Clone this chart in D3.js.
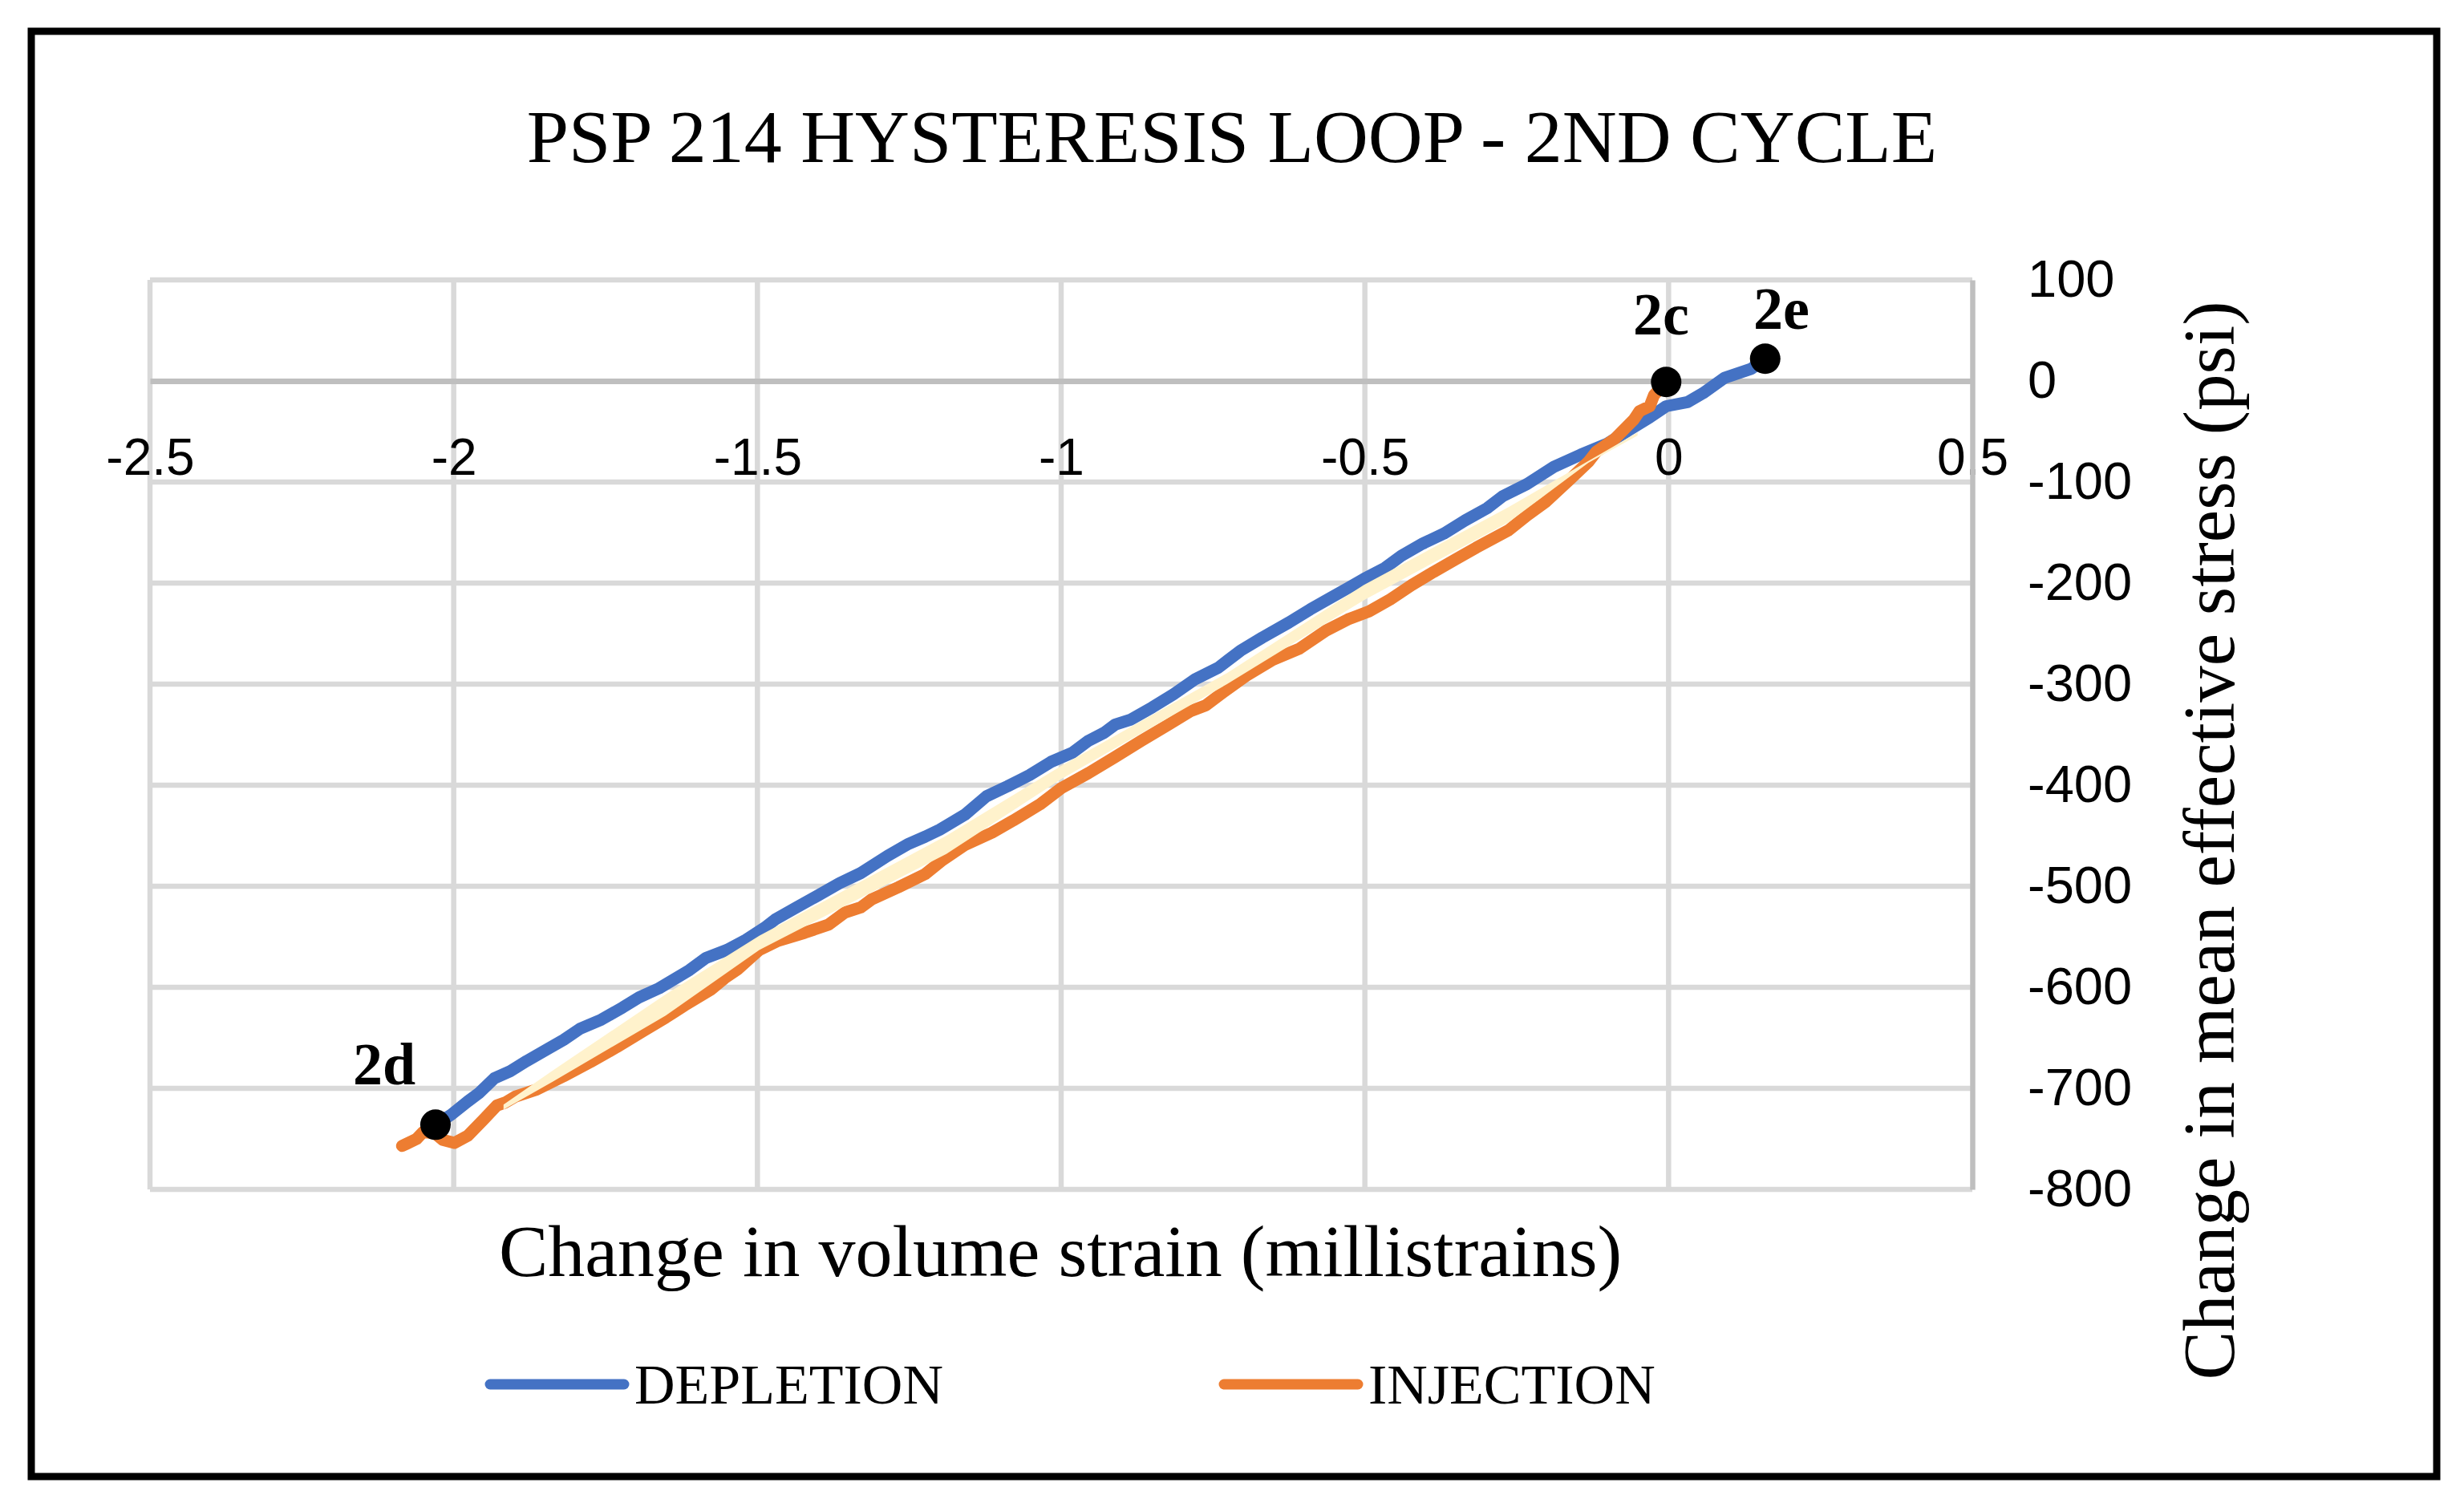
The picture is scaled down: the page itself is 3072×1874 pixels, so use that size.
<!DOCTYPE html>
<html>
<head>
<meta charset="utf-8">
<script src="https://cdn.jsdelivr.net/npm/d3@7"></script>
<style>
  body { margin: 0; background: #fff; }
  text { fill: #000; }
</style>
</head>
<body>
<script>
// data (strain in millistrains, stress in psi)
const depletion = [
    [-2.030, -736], [-2.004, -726], [-1.977, -713], [-1.959, -705], [-1.933, -690], [-1.907, -683],
    [-1.880, -673], [-1.845, -661], [-1.819, -652], [-1.792, -641], [-1.757, -632], [-1.722, -620],
    [-1.695, -610], [-1.662, -601], [-1.612, -583], [-1.585, -571], [-1.550, -563], [-1.519, -553],
    [-1.488, -541], [-1.471, -533], [-1.436, -521], [-1.400, -509], [-1.365, -497], [-1.330, -487],
    [-1.286, -470], [-1.251, -458], [-1.224, -451], [-1.200, -444], [-1.158, -429], [-1.123, -411],
    [-1.088, -401], [-1.052, -390], [-1.017, -377], [-0.982, -368], [-0.955, -356], [-0.929, -348],
    [-0.911, -340], [-0.885, -335], [-0.850, -323], [-0.815, -310], [-0.779, -295], [-0.742, -284],
    [-0.705, -267], [-0.669, -254], [-0.625, -239], [-0.590, -226], [-0.555, -214], [-0.528, -205],
    [-0.502, -196], [-0.467, -185], [-0.440, -173], [-0.405, -161], [-0.370, -151], [-0.335, -138],
    [-0.299, -126], [-0.273, -114], [-0.233, -102], [-0.189, -85], [-0.145, -73], [-0.101, -62],
    [-0.066, -49], [-0.031, -36], [-0.004, -25], [0.031, -21], [0.057, -12], [0.092, 3],
    [0.136, 12], [0.159, 22]
];
const injection = [
    [-2.085, -757], [-2.061, -750], [-2.050, -743], [-2.030, -745], [-2.018, -751], [-1.999, -754],
    [-1.977, -747], [-1.951, -731], [-1.929, -717], [-1.915, -714], [-1.898, -708], [-1.863, -701],
    [-1.819, -688], [-1.775, -674], [-1.731, -659], [-1.687, -643], [-1.651, -630], [-1.620, -618],
    [-1.576, -602], [-1.554, -591], [-1.532, -582], [-1.510, -570], [-1.497, -563], [-1.466, -554],
    [-1.422, -546], [-1.383, -538], [-1.356, -526], [-1.330, -521], [-1.312, -513], [-1.268, -501],
    [-1.224, -488], [-1.195, -474], [-1.158, -459], [-1.114, -447], [-1.079, -435], [-1.035, -419],
    [-1.000, -403], [-0.955, -388], [-0.911, -372], [-0.868, -356], [-0.823, -340], [-0.788, -327],
    [-0.762, -321], [-0.733, -308], [-0.696, -292], [-0.652, -276], [-0.608, -265], [-0.564, -247],
    [-0.528, -236], [-0.493, -228], [-0.458, -216], [-0.423, -202], [-0.387, -189], [-0.352, -177],
    [-0.317, -165], [-0.264, -148], [-0.233, -133], [-0.203, -120], [-0.160, -96], [-0.132, -80],
    [-0.119, -70], [-0.088, -57], [-0.057, -38], [-0.048, -30], [-0.031, -25], [-0.024, -14],
    [-0.004, -1]
];
// shaded loop band between the two curves
const loopBand = [
    [-1.918, -716], [-1.836, -682], [-1.651, -607], [-1.497, -549], [-1.189, -450], [-1.000, -381],
    [-0.727, -289], [-0.502, -202], [-0.264, -125], [-0.051, -51], [-0.051, -54], [-0.132, -81],
    [-0.264, -140], [-0.502, -217], [-0.727, -300], [-1.000, -394], [-1.189, -468], [-1.497, -563],
    [-1.651, -628], [-1.836, -693], [-1.918, -721]
];
const points = [
    { name: "2c", x: -0.004, y: -1 },
    { name: "2e", x: 0.159, y: 22 },
    { name: "2d", x: -2.030, y: -736 }
];
const xTicks = [-2.5, -2, -1.5, -1, -0.5, 0, 0.5];
const yTicks = [100, 0, -100, -200, -300, -400, -500, -600, -700, -800];
const series = [
    { name: "DEPLETION", color: "#4472C4", data: depletion },
    { name: "INJECTION", color: "#ED7D31", data: injection }
];

const w = 3072, h = 1874;
const serif = "'Liberation Serif', 'Times New Roman', serif";
const sans = "'Liberation Sans', Arial, sans-serif";

const svg = d3.select("body")
    .append("svg")
    .attr("width", w)
    .attr("height", h);

svg.append("rect").attr("width", w).attr("height", h).attr("fill", "#fff");
// outer frame
svg.append("rect")
    .attr("x", 39).attr("y", 39)
    .attr("width", 2999).attr("height", 1802)
    .attr("fill", "none").attr("stroke", "#000").attr("stroke-width", 9);

//scales
const xScale = d3.scaleLinear().domain([-2.5, 0.5]).range([187, 2459]);
const yScale = d3.scaleLinear().domain([100, -800]).range([349, 1483]);

//grid
svg.append("g").selectAll("line")
    .data(xTicks.slice(0, -1))
    .enter().append("line")
    .attr("x1", d => xScale(d)).attr("x2", d => xScale(d))
    .attr("y1", yScale(100)).attr("y2", yScale(-800))
    .attr("stroke", "#D9D9D9").attr("stroke-width", 6.5);
svg.append("g").selectAll("line")
    .data(yTicks.filter(d => d !== 0))
    .enter().append("line")
    .attr("x1", xScale(-2.5)).attr("x2", xScale(0.5))
    .attr("y1", d => yScale(d)).attr("y2", d => yScale(d))
    .attr("stroke", "#D9D9D9").attr("stroke-width", 6.5);

// x axis at zero, labels a little below
const xAxis = d3.axisBottom(xScale)
    .tickValues(xTicks)
    .tickSize(0)
    .tickPadding(72)
    .tickFormat(d => String(d));
const gx = svg.append("g")
    .attr("id", "x-axis")
    .attr("transform", "translate(0," + yScale(0) + ")")
    .call(xAxis);
gx.select(".domain").attr("stroke", "#BFBFBF").attr("stroke-width", 7);
gx.selectAll("text").attr("font-family", sans).attr("font-size", 64).attr("fill", "#000");

// y axis on the right
const yAxis = d3.axisRight(yScale)
    .tickValues(yTicks)
    .tickSize(0)
    .tickPadding(69)
    .tickFormat(d => String(d));
const gy = svg.append("g")
    .attr("id", "y-axis")
    .attr("transform", "translate(" + xScale(0.5) + ",0)")
    .call(yAxis);
gy.select(".domain").attr("stroke", "#BFBFBF").attr("stroke-width", 6.5);
gy.selectAll("text").attr("font-family", sans).attr("font-size", 65).attr("fill", "#000");

//lines
const line = d3.line()
    .x(d => xScale(d[0]))
    .y(d => yScale(d[1]));
series.forEach(s => {
    svg.append("path")
        .datum(s.data)
        .attr("d", line)
        .attr("fill", "none")
        .attr("stroke", s.color)
        .attr("stroke-width", 15)
        .attr("stroke-linejoin", "round")
        .attr("stroke-linecap", "round");
});

// loop shading
svg.append("path")
    .datum(loopBand)
    .attr("d", d => line(d) + "Z")
    .attr("fill", "#FFF2CC");

// markers + labels
svg.selectAll("circle.pt")
    .data(points)
    .enter().append("circle")
    .attr("class", "pt")
    .attr("cx", d => xScale(d.x))
    .attr("cy", d => yScale(d.y))
    .attr("r", 19)
    .attr("fill", "#000");
const labelPos = { "2c": [2071, 417], "2e": [2221, 410], "2d": [479, 1352] };
svg.selectAll("text.pt")
    .data(points)
    .enter().append("text")
    .attr("class", "pt")
    .attr("x", d => labelPos[d.name][0])
    .attr("y", d => labelPos[d.name][1])
    .attr("text-anchor", "middle")
    .attr("font-family", serif)
    .attr("font-weight", "bold")
    .attr("font-size", 74)
    .text(d => d.name);

// titles
svg.append("text")
    .attr("x", 1536).attr("y", 202)
    .attr("text-anchor", "middle")
    .attr("font-family", serif).attr("font-size", 94)
    .text("PSP 214 HYSTERESIS LOOP - 2ND CYCLE");
svg.append("text")
    .attr("x", 1322).attr("y", 1591)
    .attr("text-anchor", "middle")
    .attr("font-family", serif).attr("font-size", 92)
    .text("Change in volume strain (millistrains)");
svg.append("text")
    .attr("transform", "translate(2785,1048) rotate(-90)")
    .attr("text-anchor", "middle")
    .attr("font-family", serif).attr("font-size", 91)
    .text("Change in mean effective stress (psi)");

//legend
const legend = svg.append("g").attr("id", "legend");
const legendX = [611, 1526];
series.forEach((s, i) => {
    legend.append("line")
        .attr("x1", legendX[i]).attr("x2", legendX[i] + 167)
        .attr("y1", 1726).attr("y2", 1726)
        .attr("stroke", s.color).attr("stroke-width", 13)
        .attr("stroke-linecap", "round");
    legend.append("text")
        .attr("x", legendX[i] + 180).attr("y", 1750)
        .attr("font-family", serif).attr("font-size", 70)
        .text(s.name);
});
</script>
</body>
</html>
